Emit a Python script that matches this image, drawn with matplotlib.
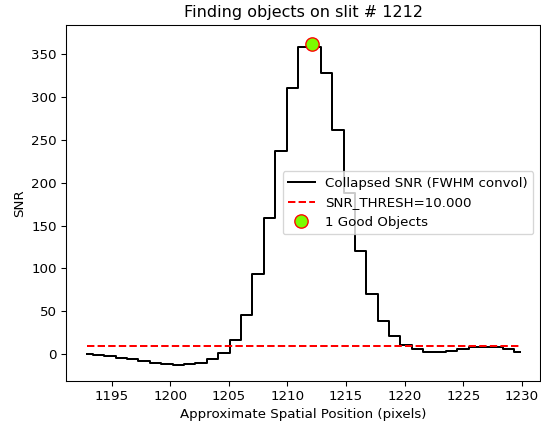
import matplotlib
matplotlib.use("Agg")
import matplotlib.pyplot as plt

# spatial positions (approximate pixels) of the collapsed profile samples
spat = [1192.90, 1193.87, 1194.84, 1195.82, 1196.79, 1197.76, 1198.73, 1199.71,
        1200.68, 1201.65, 1202.62, 1203.60, 1204.57, 1205.54, 1206.51, 1207.49,
        1208.46, 1209.43, 1210.41, 1211.38, 1212.35, 1213.32, 1214.30, 1215.27,
        1216.24, 1217.21, 1218.19, 1219.16, 1220.13, 1221.10, 1222.08, 1223.05,
        1224.02, 1224.99, 1225.97, 1226.94, 1227.91, 1228.88, 1229.85]

snr = [-0.3, -0.5, -2.0, -4.0, -5.8, -8.2, -10.5, -11.7,
       -12.5, -11.7, -9.8, -5.5, 1.2, 17.0, 46.0, 93.0,
       159.0, 237.0, 310.0, 358.0, 358.0, 328.0, 262.0, 188.0,
       120.0, 70.0, 39.0, 21.7, 10.8, 5.8, 2.7, 2.3,
       3.5, 5.8, 8.2, 8.9, 8.2, 5.8, 2.3]

snr_thresh = 10.0
obj_pos = [1212.1]
obj_snr = [362.0]
slit_id = 1212

DPI = 96
fig = plt.figure(figsize=(541 / DPI, 426 / DPI), dpi=DPI)
ax = fig.add_axes([66 / 541, 1 - 380.7 / 426, (540 - 66) / 541, (380.7 - 25) / 426])

ax.plot(spat, snr, drawstyle="steps-mid", color="black",
        label="Collapsed SNR (FWHM convol)")
ax.plot([spat[0], spat[-1]], [snr_thresh, snr_thresh], color="red", linestyle="--",
        label="SNR_THRESH={:5.3f}".format(snr_thresh))
ax.plot(obj_pos, obj_snr, linestyle="None", marker="o", markersize=10,
        markerfacecolor="lawngreen", markeredgecolor="red", zorder=10,
        label="{:d} Good Objects".format(len(obj_pos)))

ax.set_xlim(1191.1, 1231.55)
ax.set_ylim(-31, 384)
ax.set_xticks([1195, 1200, 1205, 1210, 1215, 1220, 1225, 1230])

ax.set_title("Finding objects on slit # {:d}".format(slit_id))
ax.set_xlabel("Approximate Spatial Position (pixels)")
ax.set_ylabel("SNR")
ax.legend(loc="center right")

fig.savefig("out.png", dpi=DPI)
